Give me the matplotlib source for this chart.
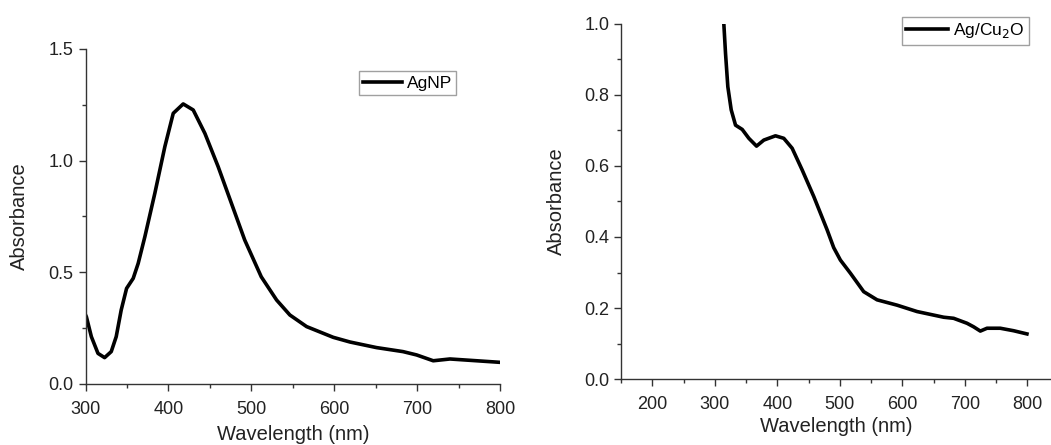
import matplotlib.pyplot as plt
from matplotlib.ticker import MultipleLocator

plt.rcParams['font.family'] = ['Liberation Sans', 'DejaVu Sans']

# AgNP spectrum
agnp_wl = [300, 301, 307, 315, 323, 331, 337, 343, 349.5, 357.5, 363.5, 371.6, 383.6,
           395.7, 405.8, 417.8, 429.9, 444, 460, 476, 492, 512, 530.5, 546.5, 566.7,
           598.8, 619, 651, 683, 699.5, 719.5, 739.7, 771.9, 800]
agnp_abs = [0.309, 0.301, 0.212, 0.137, 0.118, 0.145, 0.212, 0.331, 0.428, 0.473, 0.54,
            0.66, 0.854, 1.063, 1.212, 1.254, 1.227, 1.122, 0.973, 0.809, 0.645, 0.48,
            0.376, 0.309, 0.257, 0.209, 0.188, 0.163, 0.145, 0.130, 0.104, 0.112,
            0.104, 0.097]

# Ag/Cu2O spectrum
agcu_wl = [314.5, 317.2, 320.9, 326.3, 333.2, 343.9, 354.5, 366.8, 378.5, 397.1, 410.4,
           423.8, 439.8, 458.4, 479.8, 490.3, 501, 517, 538.3, 559.7, 591.7, 623.7,
           666.3, 682.2, 703.6, 714.2, 724.9, 735.6, 756.8, 778.1, 799.5]
agcu_abs = [1.0, 0.917, 0.823, 0.758, 0.715, 0.703, 0.678, 0.656, 0.673, 0.685, 0.678,
            0.650, 0.589, 0.514, 0.420, 0.370, 0.335, 0.298, 0.246, 0.223, 0.208, 0.190,
            0.174, 0.171, 0.157, 0.147, 0.135, 0.143, 0.143, 0.136, 0.127]

fig = plt.figure(figsize=(10.51, 4.45), dpi=100)
ax1 = fig.add_axes([0.0814, 0.1371, 0.3943, 0.7528])
ax2 = fig.add_axes([0.5909, 0.1483, 0.4091, 0.7978])

def style(ax, xpad, ypad):
    ax.spines['top'].set_visible(False)
    ax.spines['right'].set_visible(False)
    for s in ('left', 'bottom'):
        ax.spines[s].set_linewidth(1.0)
        ax.spines[s].set_color('#333333')
    ax.tick_params(which='major', direction='out', length=5, width=1, labelsize=13,
                   colors='#333333', labelcolor='#222222')
    ax.tick_params(which='minor', direction='out', length=3, width=1, colors='#333333')
    ax.tick_params(axis='x', pad=7)
    ax.set_xlabel('Wavelength (nm)', fontsize=14.5, color='#222222', labelpad=xpad)
    ax.set_ylabel('Absorbance', fontsize=14.5, color='#222222', labelpad=ypad)

ax1.plot(agnp_wl, agnp_abs, color='black', lw=2.6, label='AgNP')
ax1.set_xlim(300, 800)
ax1.set_ylim(0, 1.5)
ax1.xaxis.set_major_locator(MultipleLocator(100))
ax1.xaxis.set_minor_locator(MultipleLocator(50))
ax1.yaxis.set_major_locator(MultipleLocator(0.5))
ax1.yaxis.set_minor_locator(MultipleLocator(0.25))
style(ax1, 5, 14)
ax1.legend(loc='upper left', bbox_to_anchor=(0.66, 0.934), fontsize=12.5,
           fancybox=False, edgecolor='#888888', handlelength=2.2,
           handletextpad=0.3, borderpad=0.25, borderaxespad=0)

ax2.plot(agcu_wl, agcu_abs, color='black', lw=2.6, label='Ag/Cu$_2$O')
ax2.set_xlim(150, 838)
ax2.set_ylim(0, 1.0)
ax2.set_xticks([200, 300, 400, 500, 600, 700, 800])
ax2.xaxis.set_minor_locator(MultipleLocator(50))
ax2.yaxis.set_major_locator(MultipleLocator(0.2))
ax2.yaxis.set_minor_locator(MultipleLocator(0.1))
style(ax2, 3, 13)
ax2.legend(loc='upper left', bbox_to_anchor=(0.653, 1.02), fontsize=12.5,
           fancybox=False, edgecolor='#888888', handlelength=2.4,
           handletextpad=0.3, borderpad=0.25, borderaxespad=0)

fig.savefig('out.png', dpi=100)
